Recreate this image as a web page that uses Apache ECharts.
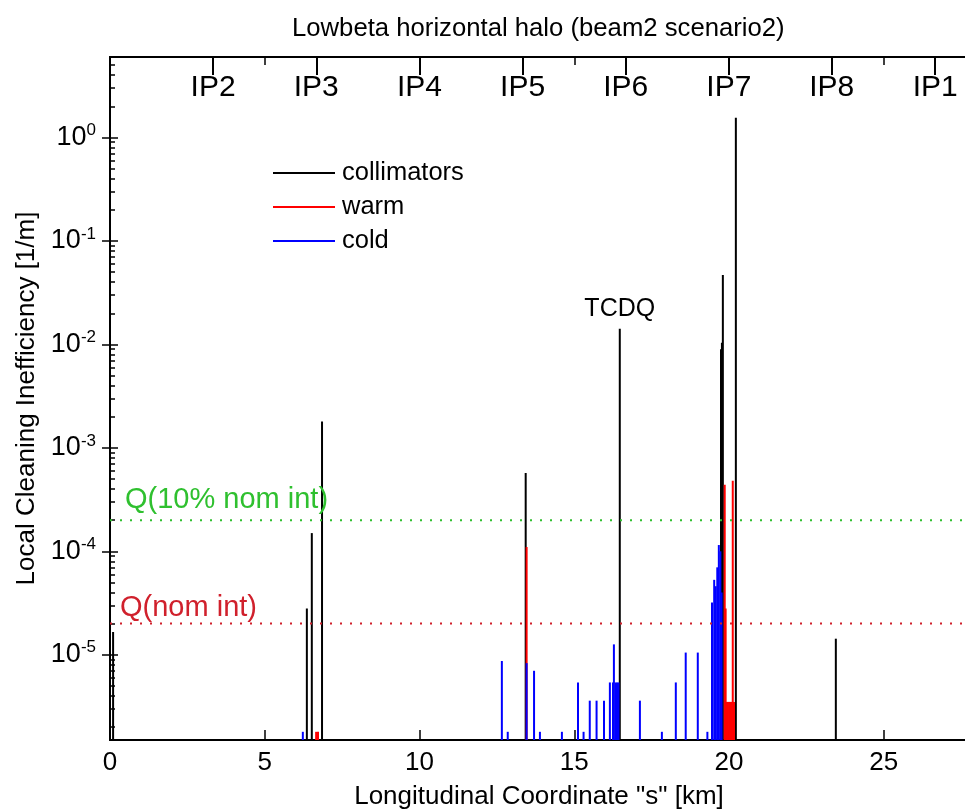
<!DOCTYPE html>
<html><head><meta charset="utf-8">
<script src="https://cdn.jsdelivr.net/npm/echarts@6/dist/echarts.min.js"></script>
<style>html,body{margin:0;padding:0;background:#fff}#c{width:965px;height:812px}</style>
</head><body><div id="c"></div>
<script>
// ---- axis ranges ----
const X_MIN = 0, X_MAX = 27.72;
const Y_MIN = 1.5e-6, Y_MAX = 6;
const yMajor = [1e-5, 1e-4, 1e-3, 1e-2, 1e-1, 1];
// ---- IP markers (top axis) ----
const ipNames = ['IP2','IP3','IP4','IP5','IP6','IP7','IP8','IP1'];
const ipPos   = [3.332, 6.664, 9.997, 13.329, 16.661, 19.994, 23.315, 26.659];
// ---- collimators (black) ----
const collS = [0.10, 6.36, 6.52, 6.85, 13.43, 16.47, 19.74, 19.77, 19.80, 20.22, 23.45];
const collV = [1.66e-5, 2.8e-5, 1.5e-4, 1.8e-3, 5.7e-4, 1.42e-2, 9.0e-3, 1.04e-2, 4.7e-2, 1.55, 1.43e-5];
// ---- warm (red) ----
const warmS = [6.66, 6.72, 13.46, 19.86, 19.89, 19.93, 19.96, 20.00, 20.03, 20.06, 20.09, 20.12, 20.16];
const warmV = [1.8e-6, 1.8e-6, 1.1e-4, 4.4e-4, 2.8e-5, 3.5e-6, 3.5e-6, 3.5e-6, 3.5e-6, 3.5e-6, 3.5e-6, 4.8e-4, 3.5e-6];
// ---- cold (blue) ----
const coldS = [6.23, 12.66, 12.85, 13.46, 13.70, 13.89, 14.60, 15.12, 15.30, 15.50, 15.72, 15.96, 16.15,
               16.25, 16.28, 16.33, 16.38, 16.43, 17.12, 17.83, 18.28, 18.60, 18.99, 19.30,
               19.45, 19.52, 19.57, 19.62, 19.67, 19.72, 19.76];
const coldV = [1.8e-6, 8.7e-6, 1.8e-6, 8.3e-6, 7.0e-6, 1.8e-6, 1.8e-6, 5.4e-6, 1.8e-6, 3.6e-6, 3.6e-6, 3.6e-6, 5.4e-6,
               5.4e-6, 1.26e-5, 5.4e-6, 5.4e-6, 5.4e-6, 3.6e-6, 1.8e-6, 5.4e-6, 1.05e-5, 1.05e-5, 1.8e-6,
               3.2e-5, 5.3e-5, 4.6e-5, 7.0e-5, 1.15e-4, 1.0e-4, 4.0e-5];
// ---- quench limits ----
const qNames  = ['Q(10% nom int)', 'Q(nom int)'];
const qValues = [2e-4, 2e-5];
const qColors = ['#2fc02f', '#d0202c'];
const qLabelOffsets = [[15, -20], [10, -16]];
// ---- tags ----
const tagName = 'TCDQ', tagIndex = 5;

const FONT = '"Liberation Sans", Arial, Helvetica, sans-serif';
const yMinor = [];
for (let d = -6; d <= 0; d++) for (let m = 2; m <= 9; m++) {
  const v = m * Math.pow(10, d);
  if (v > Y_MIN && v < Y_MAX) yMinor.push(+v.toPrecision(3));
}

function barRender(params, api) {
  const x = api.value(0), v = api.value(1);
  const top = api.coord([x, v]);
  const base = api.coord([x, Y_MIN]);
  return { type: 'rect', shape: { x: top[0] - 1, y: top[1], width: 2, height: base[1] - top[1] },
           style: { fill: api.visual('color') } };
}
const pairs = (s, v) => s.map((x, i) => [x, v[i]]);

const axisLineStyle = { color: '#000', width: 2 };
const qSeries = [];
qValues.forEach((q, i) => {
  qSeries.push({ type: 'line', name: qNames[i], xAxisIndex: 0, yAxisIndex: 0, silent: true, z: 3,
    showSymbol: false, symbol: 'none', data: [[X_MIN, q], [X_MAX, q]],
    lineStyle: { color: qColors[i], type: [2, 8], width: 2, opacity: 1 } });
  qSeries.push({ type: 'scatter', name: qNames[i] + ' label', xAxisIndex: 0, yAxisIndex: 0, silent: true, z: 4,
    symbolSize: 0, itemStyle: { opacity: 1, color: qColors[i] },
    data: [{ value: [X_MIN, q], name: qNames[i] }],
    label: { show: true, position: 'right', distance: 0, offset: qLabelOffsets[i], formatter: '{b}',
             fontFamily: FONT, fontSize: 29, color: qColors[i], opacity: 1 } });
});

const chart = echarts.init(document.getElementById('c'), null, { renderer: 'canvas' });
chart.setOption({
  animation: false,
  backgroundColor: '#fff',
  textStyle: { fontFamily: FONT },
  title: { text: 'Lowbeta horizontal halo (beam2 scenario2)', left: 287, top: 11,
           textStyle: { fontFamily: FONT, fontSize: 25.7, fontWeight: 'normal', color: '#000' } },
  grid: { left: 110, top: 57, width: 858, height: 683, containLabel: false, outerBoundsMode: 'none' },
  legend: { orient: 'vertical', left: 268, top: 155, itemWidth: 62, itemHeight: 2, itemGap: 8, icon: 'rect',
            selectedMode: false, data: ['collimators', 'warm', 'cold'],
            textStyle: { fontFamily: FONT, fontSize: 25.5, color: '#000', padding: [0, 0, 0, 2] } },
  xAxis: [
    { type: 'value', position: 'bottom', min: X_MIN, max: X_MAX, interval: 5,
      axisLine: { show: true, lineStyle: axisLineStyle },
      axisTick: { show: true, inside: true, length: 10, lineStyle: { color: '#000', width: 1.5 } },
      axisLabel: { fontFamily: FONT, fontSize: 26, color: '#000', margin: 10, showMaxLabel: false },
      splitLine: { show: false },
      name: 'Longitudinal Coordinate "s" [km]', nameLocation: 'middle', nameGap: 44,
      nameTextStyle: { fontFamily: FONT, fontSize: 26, color: '#000' } },
    { type: 'value', position: 'top', min: X_MIN, max: X_MAX, interval: 5,
      axisLine: { show: true, lineStyle: axisLineStyle },
      axisTick: { show: true, inside: true, length: 8, lineStyle: { color: '#000', width: 1.5 } },
      axisLabel: { show: false }, splitLine: { show: false } },
    { type: 'value', position: 'top', min: X_MIN, max: X_MAX,
      axisLine: { show: false },
      axisTick: { show: true, inside: true, length: 18, customValues: ipPos, lineStyle: { color: '#000', width: 2 } },
      axisLabel: { show: true, inside: true, customValues: ipPos, margin: 16, fontFamily: FONT, fontSize: 30, color: '#000',
                   formatter: v => ipNames[ipPos.indexOf(v)] },
      splitLine: { show: false } }
  ],
  yAxis: [
    { type: 'log', logBase: 10, min: Y_MIN, max: Y_MAX, position: 'left',
      axisLine: { show: true, lineStyle: axisLineStyle },
      axisTick: { show: true, inside: true, length: 8, customValues: yMajor, lineStyle: { color: '#000', width: 1.5 } },
      axisLabel: { show: true, customValues: yMajor, margin: 14,
                   formatter: v => '{b|10}{s|' + Math.round(Math.log10(v)) + '}',
                   rich: { b: { fontFamily: FONT, fontSize: 27, color: '#000' },
                           s: { fontFamily: FONT, fontSize: 17, color: '#000', verticalAlign: 'top', padding: [0, 0, 14, 0] } } },
      splitLine: { show: false },
      name: 'Local Cleaning Inefficiency [1/m]', nameLocation: 'middle', nameGap: 64,
      nameTextStyle: { fontFamily: FONT, fontSize: 26, color: '#000' } },
    { type: 'log', logBase: 10, min: Y_MIN, max: Y_MAX, position: 'left',
      axisLine: { show: false },
      axisTick: { show: true, inside: true, length: 5, customValues: yMinor, lineStyle: { color: '#000', width: 1.5 } },
      axisLabel: { show: false }, splitLine: { show: false } },
    { type: 'log', logBase: 10, min: Y_MIN, max: Y_MAX, position: 'right',
      axisLine: { show: true, lineStyle: axisLineStyle },
      axisTick: { show: true, inside: true, length: 8, customValues: yMajor, lineStyle: { color: '#000', width: 1.5 } },
      axisLabel: { show: false }, splitLine: { show: false } }
  ],
  series: [
    { type: 'custom', name: 'collimators', xAxisIndex: 0, yAxisIndex: 0, renderItem: barRender, clip: true,
      itemStyle: { color: '#000000' }, encode: { x: 0, y: 1 }, data: pairs(collS, collV),
      markPoint: { symbol: 'circle', symbolSize: 0, silent: true,
                   data: [{ coord: [collS[tagIndex], collV[tagIndex]], name: tagName }],
                   label: { show: true, position: 'top', distance: 7, formatter: '{b}', fontFamily: FONT, fontSize: 25, color: '#000' } } },
    { type: 'custom', name: 'warm', xAxisIndex: 0, yAxisIndex: 0, renderItem: barRender, clip: true,
      itemStyle: { color: '#ff0000' }, encode: { x: 0, y: 1 }, data: pairs(warmS, warmV) },
    { type: 'custom', name: 'cold', xAxisIndex: 0, yAxisIndex: 0, renderItem: barRender, clip: true,
      itemStyle: { color: '#0000ff' }, encode: { x: 0, y: 1 }, data: pairs(coldS, coldV) }
  ].concat(qSeries)
});
</script></body></html>
